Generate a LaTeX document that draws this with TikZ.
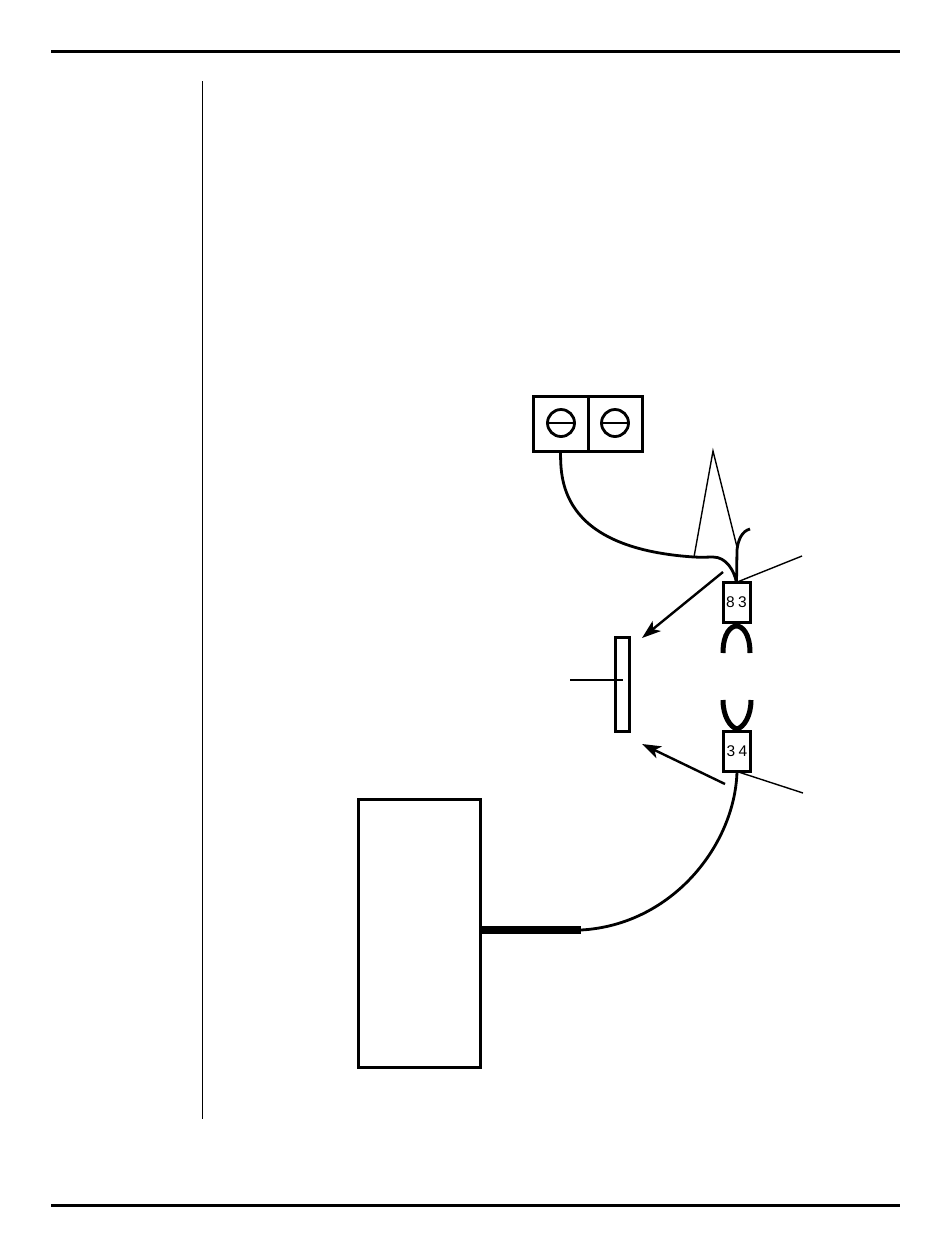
\documentclass[tikz,border=0pt]{standalone}
\usepackage{fontspec}
\setmainfont{Liberation Sans}
\usetikzlibrary{arrows.meta}
\tikzset{
  x=1pt,y=-1pt,
  boxshape/.style={draw=black,line width=3pt,fill=white,inner sep=0pt,outer sep=0pt,rectangle},
  screw/.style={draw=black,line width=2.8pt,circle,inner sep=0pt,outer sep=0pt,minimum size=27pt},
  wire/.style={draw=black,line width=2.8pt},
  thinline/.style={draw=black,line width=1.4pt},
  pointer/.style={draw=black,line width=2.4pt,-{Stealth[length=19pt,width=13pt,inset=5pt]}},
  prong/.style={draw=black,line width=5pt},
  rule/.style={draw=black,line width=3pt},
  tag/.style={boxshape,minimum width=27pt,minimum height=40pt,font=\fontsize{15.5}{15.5}\selectfont},
}
\begin{document}
\begin{tikzpicture}
\useasboundingbox (0,0) rectangle (950,1254);
\fill[white] (0,0) rectangle (950,1254);
% page rules
\coordinate (tl) at (51,51); \coordinate (tr) at (900,51);
\coordinate (bl) at (51,1205); \coordinate (br) at (900,1205);
\coordinate (vt) at (202.5,81); \coordinate (vb) at (202.5,1119);
\draw[rule] (tl) -- (tr);
\draw[rule] (bl) -- (br);
\draw[draw=black,line width=1.1pt] (vt) -- (vb);
% terminal block
\node[boxshape,minimum width=55pt,minimum height=55pt] (termA) at (560.5,423.5) {};
\node[boxshape,minimum width=54pt,minimum height=55pt] (termB) at (615,423.5) {};
\node[screw] (screwA) at (561,423) {};
\node[screw] (screwB) at (615,423) {};
\draw[draw=black,line width=2.2pt] (screwA.west) -- (screwA.east);
\draw[draw=black,line width=2.2pt] (screwB.west) -- (screwB.east);
% connector tags
\node[tag] (tagtop) at (736.5,602.5) {\raisebox{-1.5pt}{8\kern3.5pt 3}};
\node[tag] (tagbot) at (737,751.5) {\raisebox{-1.5pt}{3\kern3.5pt 4}};
% bar
\node[boxshape,minimum width=14pt,minimum height=94pt] (bar) at (622,684) {};
% large box
\node[boxshape,minimum width=122pt,minimum height=268pt] (unit) at (419,933) {};
% wires
\coordinate (j1) at (694,557);
\coordinate (j2) at (713,557);
\draw[wire] (termA.south) .. controls (561,475) and (556,548) .. (j1)
  .. controls (704,557.5) and (708,557) .. (j2)
  .. controls (726,557) and (734,570) .. (tagtop.north);
\coordinate (lead) at (750,529);
\coordinate (j3) at (737,550);
\draw[wire] (tagtop.north) -- (j3) .. controls (738,540) and (742,531) .. (lead);
% apex lines
\coordinate (apex) at (713,451);
\coordinate (j4) at (737,547);
\draw[thinline] (j1) -- (apex) -- (j4);
% leaders
\coordinate (ltop) at (802,556);
\coordinate (lbot) at (803,793);
\draw[thinline] (tagtop.north) ++(2,-1) -- (ltop);
\draw[thinline] (tagbot.south) -- (lbot);
% bar tick
\coordinate (bt1) at (570,680);
\coordinate (bt2) at (623,680);
\draw[draw=black,line width=1.6pt] (bt1) -- (bt2);
% pointers
\coordinate (p1s) at (723,572); \coordinate (p1e) at (642,638);
\coordinate (p2s) at (725,784); \coordinate (p2e) at (642,744);
\draw[pointer] (p1s) -- (p1e);
\draw[pointer] (p2s) -- (p2e);
% prongs
\coordinate (pa1) at (723,653); \coordinate (pa2) at (750,653);
\coordinate (pb1) at (723,700); \coordinate (pb2) at (751,700);
\draw[prong] (pa1) .. controls (723,633) and (731,626) .. (736.5,626) .. controls (742,626) and (750,633) .. (pa2);
\draw[prong] (pb1) .. controls (723,716) and (730,727) .. (737,729) .. controls (744,727) and (751,716) .. (pb2);
% lower wire
\coordinate (wj) at (581,930);
\draw[wire] (tagbot.south) .. controls (735,845) and (672,925) .. (wj);
\draw[draw=black,line width=8pt] (unit.east |- wj) -- (wj);
\end{tikzpicture}
\end{document}
